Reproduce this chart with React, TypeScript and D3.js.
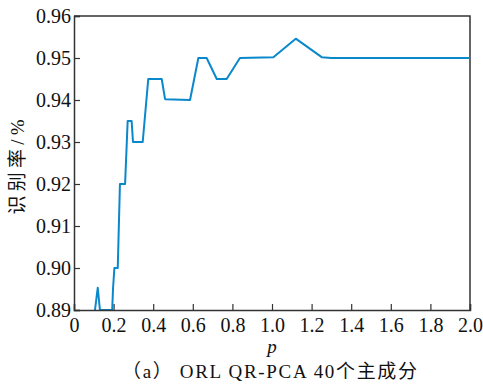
import * as d3 from 'd3';
import { useEffect, useRef } from 'react';

// p values and recognition rates
const pValues = [0.06, 0.106, 0.12, 0.131, 0.193, 0.197, 0.204, 0.221, 0.232, 0.258, 0.271, 0.291, 0.298, 0.347, 0.375, 0.443, 0.46, 0.586, 0.628, 0.67, 0.721, 0.771, 0.838, 1.007, 1.12, 1.251, 1.3, 2.0];
const rates = [0.86, 0.89, 0.8953, 0.89, 0.89, 0.895, 0.9, 0.9, 0.92, 0.92, 0.935, 0.935, 0.93, 0.93, 0.945, 0.945, 0.9402, 0.94, 0.95, 0.95, 0.945, 0.945, 0.95, 0.9502, 0.9546, 0.9502, 0.95, 0.95];
const xTicks = [0, 0.2, 0.4, 0.6, 0.8, 1.0, 1.2, 1.4, 1.6, 1.8, 2.0];
const yTicks = [0.89, 0.9, 0.91, 0.92, 0.93, 0.94, 0.95, 0.96];

export default function App() {
    const ref = useRef<any>();

    useEffect(() => {
        const dims = { width: 483, height: 385, left: 74, right: 470, top: 16, bottom: 310 };
        const svg = d3.select<any, any>(ref.current);
        svg.selectAll('*').remove();

        const xScale = d3.scaleLinear().domain([0, 2]).range([dims.left, dims.right]);
        const yScale = d3.scaleLinear().domain([0.89, 0.96]).range([dims.bottom, dims.top]);
        const font = 'Liberation Serif';
        const cjk = 'Liberation Serif, Noto Sans CJK SC';

        svg.append('defs').append('clipPath').attr('id', 'plot-clip')
            .append('rect')
            .attr('x', dims.left).attr('y', dims.top - 2)
            .attr('width', dims.right - dims.left).attr('height', dims.bottom - dims.top + 3);

        // top and right frame
        svg.append('path')
            .attr('d', `M${dims.left},${dims.top}H${dims.right}V${dims.bottom}`)
            .attr('fill', 'none')
            .attr('stroke', '#333')
            .attr('stroke-width', 1.5);

        // data line
        const line = d3.line<number>()
            .x((d, i) => xScale(pValues[i]))
            .y(d => yScale(d));

        svg.append('path')
            .datum(rates)
            .attr('clip-path', 'url(#plot-clip)')
            .attr('d', line)
            .attr('fill', 'none')
            .attr('stroke', '#0a88cc')
            .attr('stroke-width', 2)
            .attr('stroke-linejoin', 'round');

        const styleAxis = (g: any) => {
            g.attr('font-family', font).attr('font-size', 20);
            g.select('.domain').attr('stroke', '#333').attr('stroke-width', 1.5);
            g.selectAll('.tick line').attr('stroke', '#333').attr('stroke-width', 1.2);
            g.selectAll('.tick text').attr('font-family', font).attr('font-size', 20).attr('fill', '#111');
        };

        const xAxis = d3.axisBottom(xScale).tickValues(xTicks).tickSize(-6).tickPadding(8)
            .tickFormat((d: any) => d === 0 ? '0' : d3.format('.1f')(d));
        svg.append('g')
            .attr('transform', `translate(0, ${dims.bottom})`)
            .call(xAxis)
            .call(styleAxis);

        const yAxis = d3.axisLeft(yScale).tickValues(yTicks).tickSize(-6).tickPadding(3)
            .tickFormat(d3.format('.2f') as any);
        svg.append('g')
            .attr('transform', `translate(${dims.left}, 0)`)
            .call(yAxis)
            .call(styleAxis);

        svg.append('text')
            .text('识别率/%')
            .attr('transform', `translate(24, 167) rotate(-90)`)
            .attr('text-anchor', 'middle')
            .attr('textLength', 95)
            .attr('lengthAdjust', 'spacing')
            .attr('font-family', cjk)
            .attr('font-size', 19)
            .attr('fill', '#111');

        svg.append('text')
            .text('p')
            .attr('x', 272).attr('y', 353)
            .attr('text-anchor', 'middle')
            .attr('font-family', font)
            .attr('font-style', 'italic')
            .attr('font-size', 19)
            .attr('fill', '#111');

        svg.append('text')
            .text('（a） ORL QR-PCA 40个主成分')
            .attr('x', 122).attr('y', 378)
            .attr('textLength', 295)
            .attr('lengthAdjust', 'spacing')
            .attr('font-family', cjk)
            .attr('font-size', 19)
            .attr('fill', '#111');
    }, []);

    return (
        <svg ref={ref} width={483} height={385} style={{ position: 'absolute', left: 0, top: 0 }}></svg>
    );
}
